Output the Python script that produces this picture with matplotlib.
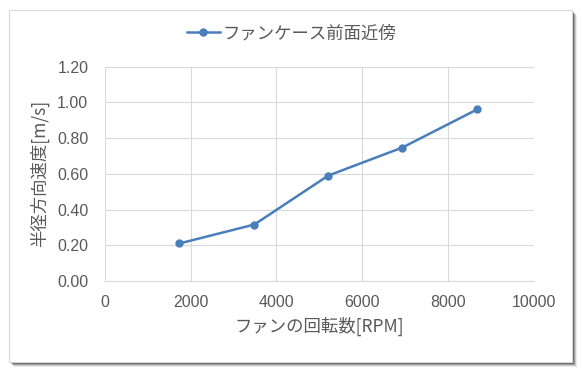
import matplotlib
matplotlib.use("Agg")
import matplotlib.pyplot as plt
from matplotlib.patches import Rectangle

rpm = [1735, 3485, 5210, 6940, 8690]
speed = [0.21, 0.316, 0.59, 0.747, 0.961]
series_name = "ファンケース前面近傍"
x_label = "ファンの回転数[RPM]"
y_label = "半径方向速度[m/s]"
x_ticks = [0, 2000, 4000, 6000, 8000, 10000]
y_ticks = [0.0, 0.2, 0.4, 0.6, 0.8, 1.0, 1.2]

plt.rcParams["font.family"] = ["Noto Sans CJK JP", "DejaVu Sans"]
TEXT = "#595959"
LINE = "#4a7ebb"

W, H = 583, 373
fig = plt.figure(figsize=(W / 100, H / 100), dpi=100, facecolor="white")

# chart frame with a soft drop shadow, Excel-like
for i, a in enumerate([0.08, 0.14, 0.22, 0.32]):
    off = 5 - i
    fig.patches.append(Rectangle(((9 + off) / W, (11 - off) / H), 563 / W, 352 / H,
                                 transform=fig.transFigure, facecolor="#000000",
                                 alpha=a, edgecolor="none", zorder=0))
fig.patches.append(Rectangle((9 / W, 11 / H), 563 / W, 352 / H, transform=fig.transFigure,
                             facecolor="white", edgecolor="#d9d9d9", linewidth=0.8, zorder=1))

ax = fig.add_axes([105 / W, (H - 281) / H, (533.5 - 105) / W, (281 - 66.6) / H])
ax.set_zorder(2)
ax.plot(rpm, speed, color=LINE, linewidth=1.8, marker="o", markersize=5, label=series_name)

ax.set_xlim(0, 10000)
ax.set_ylim(0, 1.2)
ax.set_xticks(x_ticks)
ax.set_yticks(y_ticks)
ax.set_xticklabels([str(v) for v in x_ticks], family="Liberation Sans")
ax.set_yticklabels([f"{v:.2f}" for v in y_ticks], family="Liberation Sans")
ax.tick_params(length=0, labelsize=11.5, colors=TEXT)
ax.tick_params(axis="y", pad=12)
ax.tick_params(axis="x", pad=10)
ax.grid(True, color="#d9d9d9", linewidth=0.8)
ax.set_axisbelow(True)
for side in ["top", "right", "left"]:
    ax.spines[side].set_visible(False)
ax.spines["bottom"].set_color("#d9d9d9")

ax.set_xlabel(x_label, fontsize=12.5, color=TEXT, labelpad=5)
ax.set_ylabel(y_label, fontsize=12.5, color=TEXT, labelpad=6)

fig.legend(loc="center", bbox_to_anchor=(0.5, (H - 33) / H), frameon=False,
           fontsize=12.5, labelcolor=TEXT, handlelength=1.9, handletextpad=0.15)

fig.savefig("out.png", dpi=100, facecolor="white")
